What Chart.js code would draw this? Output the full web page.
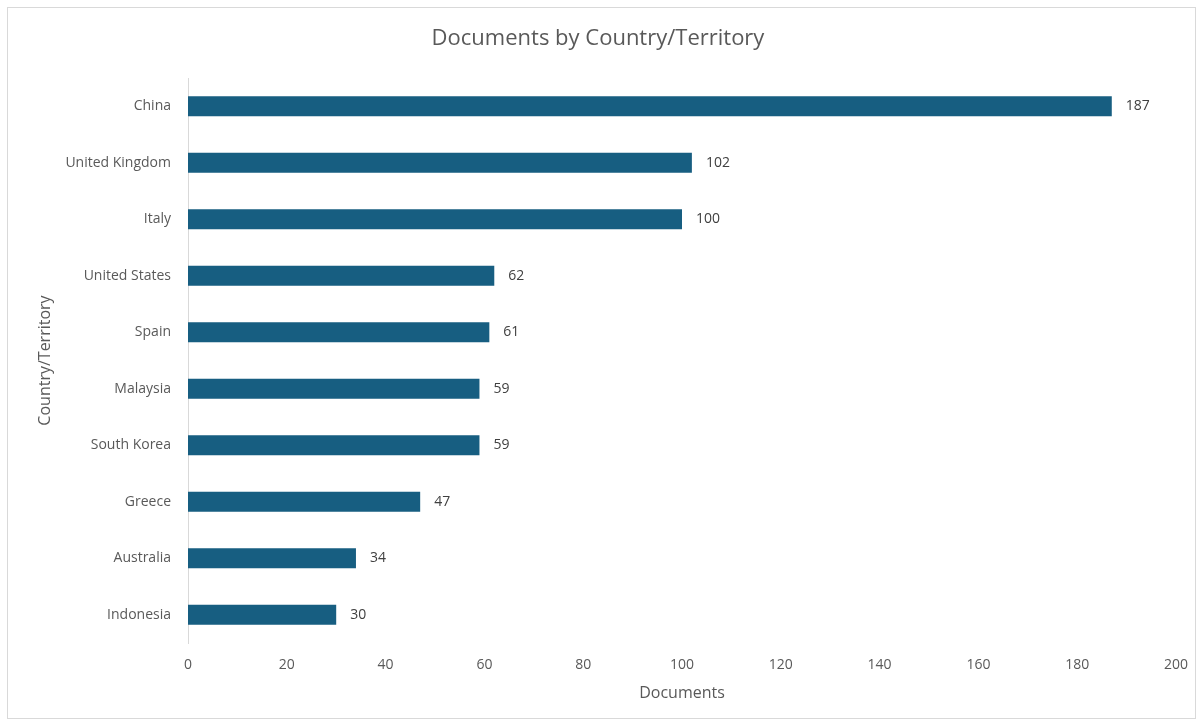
<!DOCTYPE html>
<html>
<head>
<meta charset="utf-8">
<script src="https://cdn.jsdelivr.net/npm/chart.js@4"></script>
<style>
    html, body { margin: 0; padding: 0; background: #ffffff; }
    #wrap { position: absolute; left: 0; top: 0; width: 1203px; height: 725px; }
</style>
</head>
<body>
<div id="wrap"><canvas id="docChart" width="1203" height="725"></canvas></div>
<script>
// data
const countries = ["China", "United Kingdom", "Italy", "United States", "Spain",
    "Malaysia", "South Korea", "Greece", "Australia", "Indonesia"];
const documents = [187, 102, 100, 62, 61, 59, 59, 47, 34, 30];
const xTicks = [0, 20, 40, 60, 80, 100, 120, 140, 160, 180, 200];

const barColor = "#175e81";
const textColor = "#595959";
const fontFamily = "'Open Sans', 'Liberation Sans', sans-serif";

document.addEventListener("DOMContentLoaded", function () {
    const canvas = document.getElementById("docChart");
    const ctx = canvas.getContext("2d");

    new Chart(ctx, {
        type: "bar",
        data: {
            labels: countries,
            datasets: [
                {
                    label: "Documents",
                    data: documents,
                    backgroundColor: barColor,
                    borderWidth: 0,
                    barPercentage: 0.354,
                    categoryPercentage: 1,
                },
            ],
        },
        options: {
            indexAxis: "y",
            responsive: false,
            animation: false,
            layout: { padding: { left: 20, right: 27, top: 0, bottom: 18 } },
            scales: {
                x: {
                    min: 0,
                    max: 200,
                    afterBuildTicks: (scale) => {
                        scale.ticks = xTicks.map((v) => ({ value: v }));
                    },
                    afterFit: (scale) => {
                        scale.height = 64;
                    },
                    grid: { display: false, drawTicks: false },
                    border: { display: false },
                    ticks: {
                        padding: 14,
                        color: textColor,
                        font: { size: 14, family: fontFamily },
                    },
                    title: {
                        display: true,
                        text: "Documents",
                        color: textColor,
                        padding: { top: 10, bottom: 4 },
                        font: { size: 16, family: fontFamily },
                    },
                },
                y: {
                    afterFit: (scale) => {
                        scale.width = 168;
                    },
                    grid: { display: false, drawTicks: false },
                    border: { display: true, color: "#d9d9d9", width: 1 },
                    ticks: {
                        padding: 17,
                        color: textColor,
                        font: { size: 14, family: fontFamily },
                    },
                    title: {
                        display: true,
                        text: "Country/Territory",
                        color: textColor,
                        padding: { top: 16, bottom: 4 },
                        font: { size: 16, family: fontFamily },
                    },
                },
            },
            plugins: {
                legend: { display: false },
                tooltip: { enabled: false },
                title: {
                    display: true,
                    text: "Documents by Country/Territory",
                    color: textColor,
                    padding: { top: 26, bottom: 25.6 },
                    font: { size: 22, weight: "normal", family: fontFamily },
                },
            },
        },
        plugins: [
            {
                id: "frameAndLabels",
                beforeDraw: (chart) => {
                    const c = chart.ctx;
                    c.save();
                    c.strokeStyle = "#d9d9d9";
                    c.lineWidth = 1;
                    c.strokeRect(7.5, 7.5, 1188, 711);
                    c.restore();
                },
                afterDatasetsDraw: (chart) => {
                    const c = chart.ctx;
                    const meta = chart.getDatasetMeta(0);
                    c.save();
                    c.fillStyle = "#404040";
                    c.font = "14px " + fontFamily;
                    c.textAlign = "left";
                    c.textBaseline = "middle";
                    meta.data.forEach((bar, i) => {
                        c.fillText(documents[i], bar.x + 14, bar.y);
                    });
                    c.restore();
                },
            },
        ],
    });
});
</script>
</body>
</html>
